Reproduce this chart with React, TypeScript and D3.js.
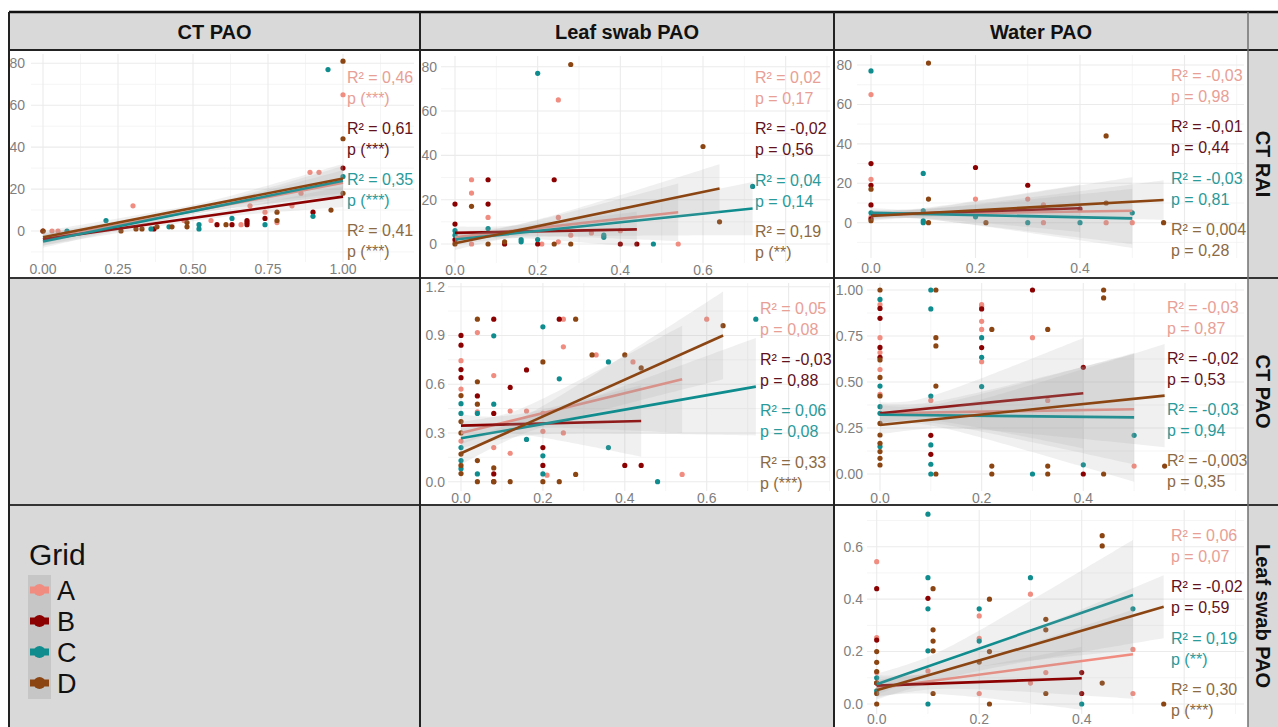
import React from 'react';
import * as d3 from 'd3';

const FONT = '"Liberation Sans", Arial, Helvetica, sans-serif';

const groups = ['A', 'B', 'C', 'D'];
const pointColors = ['#F08C80', '#8B0000', '#0E8C8E', '#8B4513'];
const statColors = ['#E8A096', '#62121C', '#2A9A9A', '#8C6A44'];

const columnTitles = ['CT PAO', 'Leaf swab PAO', 'Water PAO'];
const rowTitles = ['CT RAI', 'CT PAO', 'Leaf swab PAO'];

// tick labels
const ticksCtPaoX = [0, 0.25, 0.5, 0.75, 1];
const ticksLeafX = [0, 0.2, 0.4, 0.6];
const ticksWaterX = [0, 0.2, 0.4];
const ticksRaiY = [0, 20, 40, 60, 80];
const ticksCtPaoLeafY = [0, 0.3, 0.6, 0.9, 1.2];
const ticksCtPaoWaterY = [0, 0.25, 0.5, 0.75, 1];
const ticksLeafWaterY = [0, 0.2, 0.4, 0.6];

type Pt = [string, number, number];
type Fit = [string, number, number, number, number, number, number, number, number]; // g, xs, xe, ys, ye, w0, wmin, xmin, w1
type Stat = [string, string, string];

// CT RAI vs CT PAO
const ptsRaiCtPao: Pt[] = [
  ['A', 0.03, 0], ['A', 0.05, 0], ['A', 0.3, 12], ['A', 0.47, 5], ['A', 0.56, 5], ['A', 0.66, 3], ['A', 0.69, 12],
  ['A', 0.74, 9], ['A', 0.78, 4], ['A', 0.83, 12], ['A', 0.86, 18], ['A', 0.89, 28], ['A', 0.92, 28], ['A', 1.0, 65],
  ['B', 0.0, 0], ['B', 0.37, 1], ['B', 0.58, 3], ['B', 0.63, 3], ['B', 0.68, 5], ['B', 0.68, 4], ['B', 0.68, 3],
  ['B', 0.74, 6], ['B', 0.9, 9], ['B', 1.0, 30],
  ['C', 0.08, 0], ['C', 0.21, 5], ['C', 0.36, 1], ['C', 0.42, 2], ['C', 0.52, 3], ['C', 0.52, 1], ['C', 0.63, 6],
  ['C', 0.74, 3], ['C', 0.9, 7], ['C', 0.95, 77], ['C', 1.0, 26],
  ['D', 0.0, 0], ['D', 0.26, 0], ['D', 0.31, 1], ['D', 0.33, 1], ['D', 0.38, 2], ['D', 0.43, 2], ['D', 0.48, 4],
  ['D', 0.48, 2], ['D', 0.61, 3], ['D', 0.78, 9], ['D', 0.78, 5], ['D', 0.96, 10], ['D', 1.0, 18], ['D', 1.0, 44], ['D', 1.0, 81],
];
const fitsRaiCtPao: Fit[] = [
  ['A', 0, 1, -4, 23, 3, 1.5, 0.5, 6],
  ['B', 0, 1, -4, 16.4, 3, 1.5, 0.55, 5],
  ['C', 0, 1, -5, 24, 3, 1.5, 0.5, 7],
  ['D', 0, 1, -3, 25, 3, 1.5, 0.5, 7],
];
const statsRaiCtPao: Stat[] = [
  ['A', 'R² = 0,46', 'p  (***)'], ['B', 'R² = 0,61', 'p  (***)'], ['C', 'R² = 0,35', 'p  (***)'], ['D', 'R² = 0,41', 'p  (***)'],
];

// CT RAI vs Leaf swab PAO
const ptsRaiLeaf: Pt[] = [
  ['A', 0.04, 29], ['A', 0.04, 23], ['A', 0.08, 12], ['A', 0.04, 0], ['A', 0.21, 0], ['A', 0.25, 65], ['A', 0.25, 12],
  ['A', 0.25, 1], ['A', 0.28, 4], ['A', 0.33, 5], ['A', 0.4, 6], ['A', 0.54, 0], ['A', 0, 1],
  ['B', 0, 18], ['B', 0, 9], ['B', 0.08, 29], ['B', 0.08, 18], ['B', 0.12, 0], ['B', 0.2, 0], ['B', 0.24, 29],
  ['B', 0.4, 0], ['B', 0.44, 0], ['B', 0, 2],
  ['C', 0, 4], ['C', 0, 6], ['C', 0.08, 7], ['C', 0.16, 1], ['C', 0.16, 2], ['C', 0.2, 77], ['C', 0.2, 2], ['C', 0.36, 3],
  ['C', 0.36, 4], ['C', 0.48, 0], ['C', 0.72, 26],
  ['D', 0, 0], ['D', 0.04, 17], ['D', 0.08, 0], ['D', 0.12, 1], ['D', 0.24, 0], ['D', 0.28, 0], ['D', 0.28, 81],
  ['D', 0.6, 44], ['D', 0.64, 10],
];
const fitsRaiLeaf: Fit[] = [
  ['A', 0, 0.54, 3, 14.3, 2.5, 2, 0.1, 13],
  ['B', 0, 0.44, 5, 6.6, 3, 2.5, 0.08, 8],
  ['C', 0, 0.72, 2, 16, 2.5, 2, 0.1, 12],
  ['D', 0, 0.64, 0.3, 25, 3, 2.5, 0.12, 11],
];
const statsRaiLeaf: Stat[] = [
  ['A', 'R² = 0,02', 'p = 0,17'], ['B', 'R² = -0,02', 'p = 0,56'], ['C', 'R² = 0,04', 'p = 0,14'], ['D', 'R² = 0,19', 'p (**)'],
];

// CT RAI vs Water PAO
const ptsRaiWater: Pt[] = [
  ['A', 0, 65], ['A', 0, 22], ['A', 0, 3], ['A', 0.2, 12], ['A', 0.2, 4], ['A', 0.3, 12], ['A', 0.33, 0], ['A', 0.33, 9],
  ['A', 0.45, 0], ['A', 0.5, 0],
  ['B', 0, 30], ['B', 0, 19], ['B', 0, 9], ['B', 0, 2], ['B', 0.2, 28], ['B', 0.3, 19], ['B', 0.4, 7],
  ['C', 0, 77], ['C', 0, 5], ['C', 0.1, 25], ['C', 0.1, 6], ['C', 0.1, 0], ['C', 0.1, 1], ['C', 0.2, 3], ['C', 0.3, 0],
  ['C', 0.4, 0], ['C', 0.5, 5],
  ['D', 0, 17], ['D', 0, 1], ['D', 0.11, 81], ['D', 0.11, 12], ['D', 0.11, 0], ['D', 0.22, 0], ['D', 0.45, 44],
  ['D', 0.45, 10], ['D', 0.56, 0],
];
const fitsRaiWater: Fit[] = [
  ['A', 0, 0.5, 4, 6.1, 2, 1.8, 0.05, 17],
  ['B', 0, 0.4, 4, 7.3, 2.5, 2, 0.05, 12],
  ['C', 0, 0.5, 5, 2.2, 2.5, 2, 0.06, 15],
  ['D', 0, 0.56, 3.4, 11.5, 2.5, 2, 0.08, 10],
];
const statsRaiWater: Stat[] = [
  ['A', 'R² = -0,03', 'p = 0,98'], ['B', 'R² = -0,01', 'p = 0,44'], ['C', 'R² = -0,03', 'p = 0,81'], ['D', 'R² = 0,004', 'p = 0,28'],
];

// CT PAO vs Leaf swab PAO
const ptsCtPaoLeaf: Pt[] = [
  ['A', 0, 0.745], ['A', 0, 0.57], ['A', 0, 0.25], ['A', 0.04, 0.918], ['A', 0.04, 0.43], ['A', 0.08, 0.653],
  ['A', 0.08, 0.21], ['A', 0.12, 0.435], ['A', 0.12, 0.175], ['A', 0.16, 0.435], ['A', 0.2, 0.42], ['A', 0.2, 0.31],
  ['A', 0.21, 0.04], ['A', 0.25, 1.0], ['A', 0.25, 0.83], ['A', 0.25, 0.3], ['A', 0.33, 0.78], ['A', 0.42, 0.737],
  ['A', 0.54, 0.045], ['A', 0.6, 1.0],
  ['B', 0, 0.9], ['B', 0, 0.84], ['B', 0, 0.69], ['B', 0, 0.64], ['B', 0.04, 0.528], ['B', 0.08, 1.0], ['B', 0.08, 0.42],
  ['B', 0.08, 0.048], ['B', 0.08, 0.0], ['B', 0.12, 0.58], ['B', 0.16, 0.688], ['B', 0.2, 0.21], ['B', 0.2, 0.1],
  ['B', 0.24, 1.0], ['B', 0.4, 0.1], ['B', 0.44, 0.1],
  ['C', 0, 0.48], ['C', 0, 0.42], ['C', 0, 0.21], ['C', 0, 0.13], ['C', 0, 0.08], ['C', 0.04, 0.42], ['C', 0.04, 0.048],
  ['C', 0.08, 0.898], ['C', 0.08, 0.477], ['C', 0.16, 0.26], ['C', 0.2, 0.953], ['C', 0.2, 0.159], ['C', 0.2, 0.048],
  ['C', 0.24, 0.633], ['C', 0.36, 0.737], ['C', 0.36, 0.21], ['C', 0.48, 0.0], ['C', 0.72, 1.0],
  ['D', 0, 0.53], ['D', 0, 0.37], ['D', 0, 0.3], ['D', 0, 0.17], ['D', 0, 0.1], ['D', 0, 0.05], ['D', 0.04, 1.0],
  ['D', 0.04, 0.615], ['D', 0.04, 0.477], ['D', 0.04, 0.13], ['D', 0.04, 0.0], ['D', 0.08, 0.085], ['D', 0.08, 0.0],
  ['D', 0.12, 0.0], ['D', 0.2, 0.737], ['D', 0.2, 0.0], ['D', 0.24, 0.0], ['D', 0.28, 1.0], ['D', 0.28, 0.045],
  ['D', 0.32, 0.78], ['D', 0.4, 0.78], ['D', 0.44, 0.7], ['D', 0.64, 0.96],
];
const fitsCtPaoLeaf: Fit[] = [
  ['A', 0, 0.54, 0.3, 0.63, 0.07, 0.05, 0.1, 0.33],
  ['B', 0, 0.44, 0.345, 0.374, 0.07, 0.05, 0.08, 0.22],
  ['C', 0, 0.72, 0.267, 0.585, 0.06, 0.05, 0.12, 0.3],
  ['D', 0, 0.64, 0.175, 0.9, 0.07, 0.05, 0.12, 0.27],
];
const statsCtPaoLeaf: Stat[] = [
  ['A', 'R² = 0,05', 'p = 0,08'], ['B', 'R² = -0,03', 'p = 0,88'], ['C', 'R² = 0,06', 'p = 0,08'], ['D', 'R² = 0,33', 'p  (***)'],
];

// CT PAO vs Water PAO
const ptsCtPaoWater: Pt[] = [
  ['A', 0, 0.92], ['A', 0, 0.741], ['A', 0, 0.66], ['A', 0, 0.568], ['A', 0, 0.433], ['A', 0.1, 0.4], ['A', 0.2, 0.92],
  ['A', 0.2, 0.91], ['A', 0.2, 0.83], ['A', 0.2, 0.786], ['A', 0.2, 0.61], ['A', 0.3, 0.741], ['A', 0.33, 0.4], ['A', 0.5, 0.043],
  ['B', 0, 0.9], ['B', 0, 0.846], ['B', 0, 0.688], ['B', 0, 0.634], ['B', 0.1, 0.21], ['B', 0.1, 0.107], ['B', 0.2, 0.897],
  ['B', 0.2, 0.687], ['B', 0.3, 1.0], ['B', 0.4, 0.0], ['B', 0.4, 0.58],
  ['C', 0, 0.949], ['C', 0, 0.478], ['C', 0, 0.366], ['C', 0, 0.33], ['C', 0, 0.149], ['C', 0.1, 1.0], ['C', 0.1, 0.897],
  ['C', 0.1, 0.424], ['C', 0.1, 0.158], ['C', 0.1, 0.053], ['C', 0.1, 0.0], ['C', 0.2, 0.741], ['C', 0.2, 0.634],
  ['C', 0.2, 0.475], ['C', 0.3, 0.0], ['C', 0.4, 0.05], ['C', 0.5, 0.21],
  ['D', 0, 1.0], ['D', 0, 0.62], ['D', 0, 0.525], ['D', 0, 0.424], ['D', 0, 0.275], ['D', 0, 0.212], ['D', 0, 0.167],
  ['D', 0, 0.122], ['D', 0, 0.085], ['D', 0, 0.049], ['D', 0.11, 1.0], ['D', 0.11, 0.741], ['D', 0.11, 0.696],
  ['D', 0.11, 0.478], ['D', 0.11, 0.0], ['D', 0.22, 0.786], ['D', 0.22, 0.043], ['D', 0.22, 0.0], ['D', 0.33, 0.786],
  ['D', 0.33, 0.043], ['D', 0.33, 0.0], ['D', 0.44, 1.0], ['D', 0.44, 0.957], ['D', 0.44, 0.0], ['D', 0.56, 0.043],
];
const fitsCtPaoWater: Fit[] = [
  ['A', 0, 0.5, 0.33, 0.352, 0.05, 0.045, 0.05, 0.3],
  ['B', 0, 0.4, 0.33, 0.439, 0.06, 0.05, 0.05, 0.3],
  ['C', 0, 0.5, 0.322, 0.308, 0.05, 0.045, 0.06, 0.35],
  ['D', 0, 0.56, 0.266, 0.426, 0.05, 0.045, 0.08, 0.28],
];
const statsCtPaoWater: Stat[] = [
  ['A', 'R² = -0,03', 'p = 0,87'], ['B', 'R² = -0,02', 'p = 0,53'], ['C', 'R² = -0,03', 'p = 0,94'], ['D', 'R² = -0,003', 'p = 0,35'],
];

// Leaf swab PAO vs Water PAO
const ptsLeafWater: Pt[] = [
  ['A', 0, 0.543], ['A', 0, 0.253], ['A', 0, 0.12], ['A', 0.1, 0.126], ['A', 0.2, 0.336], ['A', 0.2, 0.25], ['A', 0.2, 0.04],
  ['A', 0.3, 0.419], ['A', 0.3, 0.08], ['A', 0.33, 0.12], ['A', 0.5, 0.208], ['A', 0.5, 0.04],
  ['B', 0, 0.44], ['B', 0, 0.244], ['B', 0, 0.08], ['B', 0.1, 0.403], ['B', 0.4, 0.12], ['B', 0.4, 0.04],
  ['C', 0, 0.1], ['C', 0, 0.05], ['C', 0.1, 0.724], ['C', 0.1, 0.482], ['C', 0.1, 0.363], ['C', 0.1, 0.203], ['C', 0.1, 0.0],
  ['C', 0.2, 0.363], ['C', 0.2, 0.24], ['C', 0.3, 0.482], ['C', 0.4, 0.0], ['C', 0.5, 0.363],
  ['D', 0, 0.2], ['D', 0, 0.159], ['D', 0, 0.124], ['D', 0, 0.081], ['D', 0, 0.04], ['D', 0, 0.0], ['D', 0.11, 0.44],
  ['D', 0.11, 0.283], ['D', 0.11, 0.24], ['D', 0.11, 0.203], ['D', 0.11, 0.04], ['D', 0.2, 0.16], ['D', 0.22, 0.4],
  ['D', 0.22, 0.2], ['D', 0.22, 0.0], ['D', 0.33, 0.323], ['D', 0.33, 0.283], ['D', 0.33, 0.04], ['D', 0.44, 0.642],
  ['D', 0.44, 0.603], ['D', 0.44, 0.08], ['D', 0.56, 0.0],
];
const fitsLeafWater: Fit[] = [
  ['A', 0, 0.5, 0.06, 0.19, 0.035, 0.03, 0.08, 0.17],
  ['B', 0, 0.4, 0.07, 0.098, 0.04, 0.035, 0.06, 0.12],
  ['C', 0, 0.5, 0.075, 0.416, 0.04, 0.035, 0.08, 0.21],
  ['D', 0, 0.56, 0.052, 0.371, 0.035, 0.03, 0.1, 0.12],
];
const statsLeafWater: Stat[] = [
  ['A', 'R² = 0,06', 'p = 0,07'], ['B', 'R² = -0,02', 'p = 0,59'], ['C', 'R² = 0,19', 'p  (**)'], ['D', 'R² = 0,30', 'p (***)'],
];

interface PanelCfg {
  id: string;
  cell: number[];
  pts: Pt[];
  fits: Fit[];
  stats: Stat[];
  xCal: number[];
  yCal: number[];
  xTicks: number[];
  yTicks: number[];
  xFmt: string;
  yFmt: string;
  xLabY: number;
  yLabX: number;
  grid: number[];
  annX: number;
  annY: number;
  annStep: number;
}

const panels: PanelCfg[] = [
  { id: 'p11', cell: [9, 50, 420, 278], pts: ptsRaiCtPao, fits: fitsRaiCtPao, stats: statsRaiCtPao,
    xCal: [0, 43, 1, 343], yCal: [0, 231, 80, 63.3], xTicks: ticksCtPaoX, yTicks: ticksRaiY, xFmt: '.2f', yFmt: 'd',
    xLabY: 269, yLabX: 25, grid: [31, 54, 414, 262], annX: 347, annY: 77.7, annStep: 50.9 },
  { id: 'p12', cell: [420, 50, 834, 278], pts: ptsRaiLeaf, fits: fitsRaiLeaf, stats: statsRaiLeaf,
    xCal: [0, 455, 0.6, 703], yCal: [0, 244, 80, 66.7], xTicks: ticksLeafX, yTicks: ticksRaiY, xFmt: '.1f', yFmt: 'd',
    xLabY: 270, yLabX: 437, grid: [441, 56, 830, 263], annX: 755, annY: 77.5, annStep: 51.2 },
  { id: 'p13', cell: [834, 50, 1248, 278], pts: ptsRaiWater, fits: fitsRaiWater, stats: statsRaiWater,
    xCal: [0, 871, 0.4, 1080], yCal: [0, 222.7, 80, 65], xTicks: ticksWaterX, yTicks: ticksRaiY, xFmt: '.1f', yFmt: 'd',
    xLabY: 268, yLabX: 852, grid: [857, 55, 1244, 258], annX: 1171, annY: 75.5, annStep: 51.2 },
  { id: 'p22', cell: [420, 278, 834, 505], pts: ptsCtPaoLeaf, fits: fitsCtPaoLeaf, stats: statsCtPaoLeaf,
    xCal: [0, 461, 0.6, 706.7], yCal: [0, 481.7, 1.2, 286.7], xTicks: ticksLeafX, yTicks: ticksCtPaoLeafY, xFmt: '.1f', yFmt: '.1f',
    xLabY: 498, yLabX: 445, grid: [448, 283, 830, 491], annX: 760, annY: 308, annStep: 51.3 },
  { id: 'p23', cell: [834, 278, 1248, 505], pts: ptsCtPaoWater, fits: fitsCtPaoWater, stats: statsCtPaoWater,
    xCal: [0, 880, 0.4, 1083.3], yCal: [0, 474, 1, 290], xTicks: ticksWaterX, yTicks: ticksCtPaoWaterY, xFmt: '.1f', yFmt: '.2f',
    xLabY: 498, yLabX: 863, grid: [867, 283, 1244, 491], annX: 1167, annY: 307, annStep: 51 },
  { id: 'p33', cell: [834, 505, 1248, 727], pts: ptsLeafWater, fits: fitsLeafWater, stats: statsLeafWater,
    xCal: [0, 876.7, 0.4, 1081.7], yCal: [0, 704, 0.6, 546.7], xTicks: ticksWaterX, yTicks: ticksLeafWaterY, xFmt: '.1f', yFmt: '.1f',
    xLabY: 719, yLabX: 863, grid: [867, 510, 1244, 714], annX: 1171, annY: 535.5, annStep: 51.2 },
];

function halfWidth(f: Fit, x: number): number {
  const [, xs, xe, , , w0, wm, xm, w1] = f;
  if (x <= xm) {
    const kl = xm > xs ? Math.sqrt(Math.max(w0 * w0 - wm * wm, 0)) / (xm - xs) : 0;
    return Math.sqrt(wm * wm + kl * kl * (x - xm) * (x - xm));
  }
  const kr = xe > xm ? Math.sqrt(Math.max(w1 * w1 - wm * wm, 0)) / (xe - xm) : 0;
  return Math.sqrt(wm * wm + kr * kr * (x - xm) * (x - xm));
}

function Panel({ p }: { p: PanelCfg }) {
  const sx = d3.scaleLinear().domain([p.xCal[0], p.xCal[2]]).range([p.xCal[1], p.xCal[3]]);
  const sy = d3.scaleLinear().domain([p.yCal[0], p.yCal[2]]).range([p.yCal[1], p.yCal[3]]);
  const [gx0, gy0, gx1, gy1] = p.grid;
  const fx = d3.format(p.xFmt);
  const fy = d3.format(p.yFmt);

  const xStep = (p.xTicks[1] - p.xTicks[0]) / 2;
  const yStep = (p.yTicks[1] - p.yTicks[0]) / 2;
  const vLines: { px: number; major: boolean }[] = [];
  for (let k = -6; k <= 20; k++) {
    const v = p.xTicks[0] + k * xStep;
    const px = sx(v);
    if (px >= gx0 && px <= gx1) vLines.push({ px, major: k % 2 === 0 });
  }
  const hLines: { py: number; major: boolean }[] = [];
  for (let k = -6; k <= 20; k++) {
    const v = p.yTicks[0] + k * yStep;
    const py = sy(v);
    if (py >= gy0 && py <= gy1) hLines.push({ py, major: k % 2 === 0 });
  }

  const [cx0, cy0, cx1, cy1] = p.cell;
  return (
    <g>
      <clipPath id={`clip-${p.id}`}>
        <rect x={cx0} y={cy0} width={cx1 - cx0} height={cy1 - cy0} />
      </clipPath>
      <g clipPath={`url(#clip-${p.id})`}>
        <rect x={cx0} y={cy0} width={cx1 - cx0} height={cy1 - cy0} fill="#ffffff" />
        {hLines.filter((l) => !l.major).map((l, i) => (
          <line key={`hm${i}`} x1={gx0} x2={gx1} y1={l.py} y2={l.py} stroke="#f3f3f3" strokeWidth={0.8} />
        ))}
        {vLines.filter((l) => !l.major).map((l, i) => (
          <line key={`vm${i}`} x1={l.px} x2={l.px} y1={gy0} y2={gy1} stroke="#f3f3f3" strokeWidth={0.8} />
        ))}
        {hLines.filter((l) => l.major).map((l, i) => (
          <line key={`hM${i}`} x1={gx0} x2={gx1} y1={l.py} y2={l.py} stroke="#ebebeb" strokeWidth={1.1} />
        ))}
        {vLines.filter((l) => l.major).map((l, i) => (
          <line key={`vM${i}`} x1={l.px} x2={l.px} y1={gy0} y2={gy1} stroke="#ebebeb" strokeWidth={1.1} />
        ))}
        {p.pts.map((d, i) => (
          <circle key={`pt${i}`} cx={sx(d[1])} cy={sy(d[2])} r={2.6} fill={pointColors[groups.indexOf(d[0])]} />
        ))}
        {p.fits.map((f, i) => {
          const [g, xs, xe, ys, ye] = f;
          const lin = (x: number) => ys + ((ye - ys) * (x - xs)) / (xe - xs);
          const samples = d3.range(0, 61).map((j) => xs + ((xe - xs) * j) / 60);
          const area = d3
            .area<number>()
            .x((x) => sx(x))
            .y0((x) => sy(lin(x) - halfWidth(f, x)))
            .y1((x) => sy(lin(x) + halfWidth(f, x)));
          const line = d3
            .line<number>()
            .x((x) => sx(x))
            .y((x) => sy(lin(x)));
          return (
            <g key={`fit${i}`}>
              <path d={area(samples) || ''} fill="#a0a0a0" fillOpacity={0.16} />
              <path d={line([xs, xe]) || ''} fill="none" stroke={pointColors[groups.indexOf(g)]} strokeWidth={2.6} />
            </g>
          );
        })}
        {p.stats.map((s, i) => {
          const c = statColors[groups.indexOf(s[0])];
          const y = p.annY + i * p.annStep;
          return (
            <g key={`st${i}`} fontFamily={FONT} fontSize={16} fill={c}>
              <text x={p.annX} y={y} dy="0.35em">{s[1]}</text>
              <text x={p.annX} y={y + 21} dy="0.35em">{s[2]}</text>
            </g>
          );
        })}
        {p.xTicks.map((t, i) => (
          <text key={`xt${i}`} x={sx(t)} y={p.xLabY} dy="0.35em" textAnchor="middle" fontFamily={FONT} fontSize={14} fill="#7f7f7f">
            {fx(t)}
          </text>
        ))}
        {p.yTicks.map((t, i) => (
          <text key={`yt${i}`} x={p.yLabX} y={sy(t)} dy="0.35em" textAnchor="end" fontFamily={FONT} fontSize={14} fill="#7f7f7f">
            {fy(t)}
          </text>
        ))}
      </g>
    </g>
  );
}

export default function App() {
  const W = 1278;
  const H = 727;
  const colX = [9, 420, 834, 1248];
  const rowY = [50, 278, 505, 727];
  const legendY0 = 590;
  const legendStep = 31;
  return (
    <svg width={W} height={H} style={{ position: 'absolute', left: 0, top: 0 }} fontFamily={FONT}>
      <rect x={0} y={0} width={W} height={H} fill="#ffffff" />
      {/* header */}
      <rect x={9} y={12} width={W - 9} height={38} fill="#d9d9d9" />
      {/* right strip */}
      <rect x={1248} y={50} width={30} height={H - 50} fill="#d9d9d9" />
      {/* empty cells */}
      <rect x={9} y={278} width={411} height={H - 278} fill="#d9d9d9" />
      <rect x={420} y={505} width={414} height={H - 505} fill="#d9d9d9" />

      {panels.map((p) => (
        <Panel key={p.id} p={p} />
      ))}

      {/* column titles */}
      {columnTitles.map((t, i) => (
        <text key={t} x={(colX[i] + colX[i + 1]) / 2} y={32} dy="0.35em" textAnchor="middle" fontWeight="bold" fontSize={20} fill="#111">
          {t}
        </text>
      ))}
      {/* row titles */}
      {rowTitles.map((t, i) => (
        <text key={t} transform={`translate(1263,${(rowY[i] + rowY[i + 1]) / 2}) rotate(90)`} dy="0.35em" textAnchor="middle" fontWeight="bold" fontSize={20} fill="#111">
          {t}
        </text>
      ))}

      {/* legend */}
      <text x={29} y={565} fontSize={30} fill="#111">Grid</text>
      <rect x={28} y={575} width={23} height={124} fill="#c6c6c6" />
      {groups.map((g, i) => {
        const cy = legendY0 + i * legendStep;
        return (
          <g key={g}>
            <rect x={30} y={cy - 3.5} width={19} height={7} fill={pointColors[i]} />
            <circle cx={39.5} cy={cy} r={6} fill={pointColors[i]} />
            <text x={57} y={cy + 10} fontSize={27} fill="#111">{g}</text>
          </g>
        );
      })}

      {/* table lines */}
      <line x1={9} x2={W} y1={12} y2={12} stroke="#111" strokeWidth={2.5} />
      <line x1={9} x2={W} y1={50} y2={50} stroke="#222" strokeWidth={2} />
      <line x1={9} x2={W} y1={278} y2={278} stroke="#333" strokeWidth={2} />
      <line x1={9} x2={W} y1={505} y2={505} stroke="#333" strokeWidth={2} />
      <line x1={9} x2={9} y1={12} y2={H} stroke="#222" strokeWidth={2} />
      <line x1={420} x2={420} y1={12} y2={H} stroke="#222" strokeWidth={2} />
      <line x1={834} x2={834} y1={12} y2={H} stroke="#222" strokeWidth={2} />
      <line x1={1248} x2={1248} y1={12} y2={H} stroke="#707070" strokeWidth={1.5} />
    </svg>
  );
}
